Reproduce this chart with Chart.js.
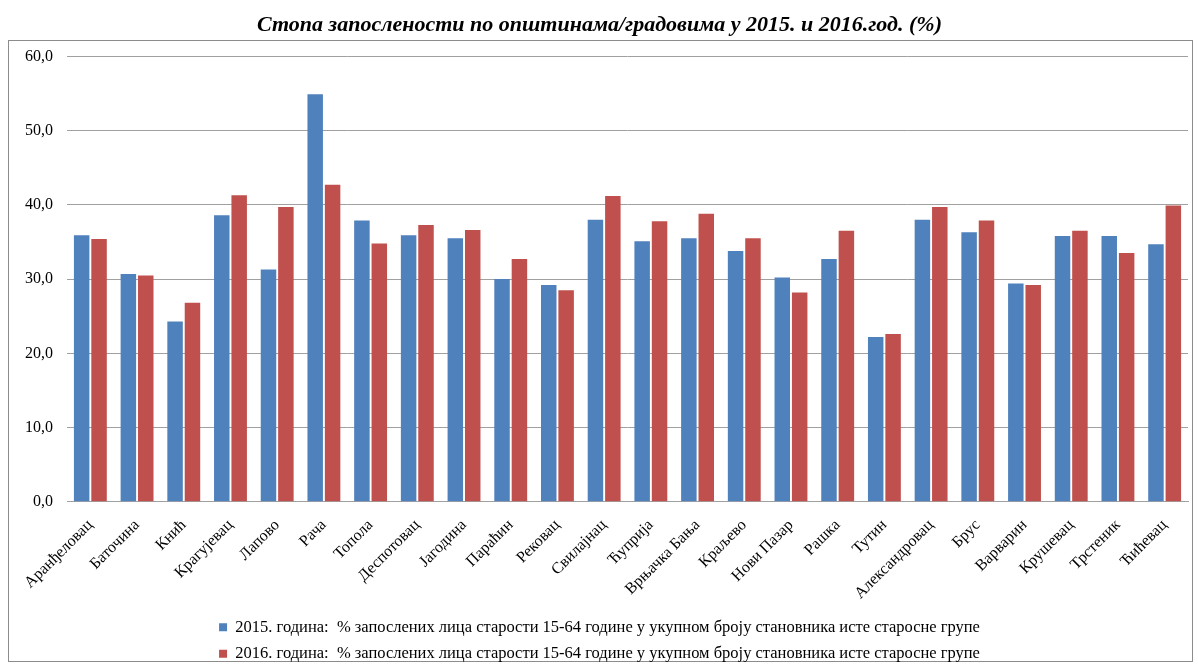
<!DOCTYPE html>
<html>
<head>
<meta charset="utf-8">
<script src="https://cdn.jsdelivr.net/npm/chart.js@4/dist/chart.umd.min.js"></script>
<style>
  html, body { margin: 0; padding: 0; background: #ffffff; }
  #wrap { position: relative; width: 1198px; height: 668px; }
</style>
</head>
<body>
<div id="wrap"><canvas id="chart" width="1198" height="668"></canvas></div>
<script>
const MUNICIPALITIES = [
  'Аранђеловац', 'Баточина', 'Кнић', 'Крагујевац', 'Лапово', 'Рача', 'Топола',
  'Деспотовац', 'Јагодина', 'Параћин', 'Рековац', 'Свилајнац', 'Ћуприја',
  'Врњачка Бања', 'Краљево', 'Нови Пазар', 'Рашка', 'Тутин', 'Александровац',
  'Брус', 'Варварин', 'Крушевац', 'Трстеник', 'Ћићевац',
];

const RATE_2015 = [
  35.9, 30.7, 24.3, 38.6, 31.3, 54.9, 37.9, 35.9, 35.5, 30.0, 29.2, 38.0,
  35.1, 35.5, 33.8, 30.2, 32.7, 22.2, 38.0, 36.3, 29.4, 35.8, 35.8, 34.7,
];

const RATE_2016 = [
  35.4, 30.5, 26.8, 41.3, 39.7, 42.7, 34.8, 37.3, 36.6, 32.7, 28.5, 41.2,
  37.8, 38.8, 35.5, 28.2, 36.5, 22.6, 39.7, 37.9, 29.2, 36.5, 33.5, 39.9,
];

const SERIES_LABELS = [
  '2015. година:  % запослених лица старости 15-64 године у укупном броју становника исте старосне групе',
  '2016. година:  % запослених лица старости 15-64 године у укупном броју становника исте старосне групе',
];

const Y_TICKS = [0, 10, 20, 30, 40, 50, 60];

const SERIF = '"Liberation Serif", "Times New Roman", serif';

// outer frame like the Excel chart area
const frame = {
  id: 'frame',
  beforeDraw(chart) {
    const { ctx } = chart;
    ctx.save();
    ctx.strokeStyle = '#8c8c8c';
    ctx.lineWidth = 1;
    ctx.strokeRect(8.5, 40.5, 1184, 621);
    ctx.restore();
  },
};

new Chart(document.getElementById('chart'), {
  type: 'bar',
  data: {
    labels: MUNICIPALITIES,
    datasets: [
      { label: SERIES_LABELS[0], data: RATE_2015, backgroundColor: '#4f81bd' },
      { label: SERIES_LABELS[1], data: RATE_2016, backgroundColor: '#c0504d' },
    ],
  },
  options: {
    responsive: false,
    animation: false,
    layout: { padding: { left: 11, right: 10, top: 0, bottom: -4 } },
    datasets: {
      bar: { categoryPercentage: 0.745, barPercentage: 0.89 },
    },
    scales: {
      x: {
        grid: { display: false },
        border: { color: '#a0a0a0' },
        ticks: {
          color: '#000000',
          padding: 6,
          font: { family: SERIF, size: 16 },
          minRotation: 45,
          maxRotation: 45,
          autoSkip: false,
        },
      },
      y: {
        min: 0,
        max: 60,
        border: { display: false },
        grid: { color: '#a0a0a0', drawTicks: false },
        afterBuildTicks(axis) {
          axis.ticks = Y_TICKS.map((value) => ({ value }));
        },
        ticks: {
          color: '#000000',
          padding: 14,
          font: { family: SERIF, size: 16 },
          callback: (value) => value.toFixed(1).replace('.', ','),
        },
      },
    },
    plugins: {
      title: {
        display: true,
        text: 'Стопа запослености по општинама/градовима у 2015. и 2016.год. (%)',
        color: '#000000',
        font: { family: SERIF, size: 22, weight: 'bold', style: 'italic' },
        padding: { top: 12, bottom: 18 },
      },
      legend: {
        position: 'bottom',
        labels: {
          color: '#000000',
          font: { family: SERIF, size: 16.5 },
          boxWidth: 8,
          boxHeight: 8,
          padding: 10,
        },
      },
      tooltip: { enabled: false },
    },
  },
  plugins: [frame],
});
</script>
</body>
</html>
